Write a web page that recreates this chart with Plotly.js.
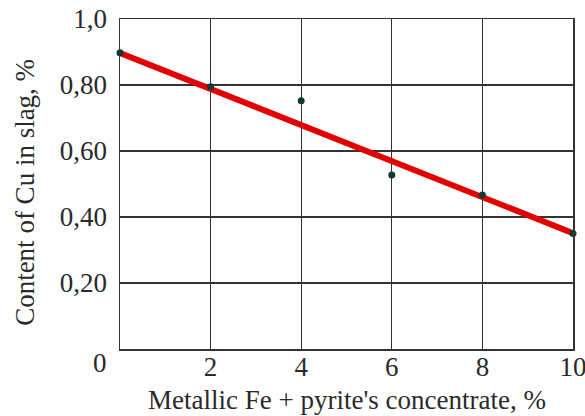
<!DOCTYPE html>
<html>
<head>
<meta charset="utf-8">
<script src="https://cdn.plot.ly/plotly-3.0.1.min.js"></script>
<style>html,body{margin:0;padding:0;background:#fff;}#chart{width:585px;height:416px;}</style>
</head>
<body>
<div id="chart"></div>
<script>
// Data
const xValues = [0, 2, 4, 6, 8, 10];
const cuContent = [0.898, 0.795, 0.752, 0.527, 0.467, 0.350];
const fitX = [0, 10];
const fitY = [0.897, 0.351];
const xTickVals = [2, 4, 6, 8, 10];
const xTickText = ["2", "4", "6", "8", "10"];
const yTickVals = [0.2, 0.4, 0.6, 0.8, 1.0];
const yTickText = ["0,20", "0,40", "0,60", "0,80", "1,0"];
const originLabel = "0";
const xTitle = "Metallic Fe + pyrite's concentrate, %";
const yTitle = "Content of Cu in slag, %";

const font = {family: "Liberation Serif, Times New Roman, serif", size: 27, color: "#2a2a2a"};
const titleFont = {family: "Liberation Serif, Times New Roman, serif", size: 27, color: "#2a2a2a"};

const traces = [
  {x: fitX, y: fitY, mode: "lines", line: {color: "#e30000", width: 6}, hoverinfo: "skip", cliponaxis: false},
  {x: xValues, y: cuContent, mode: "markers", marker: {color: "#0d3b36", size: 7}, cliponaxis: false}
];

const layout = {
  width: 585, height: 416,
  margin: {l: 120, r: 12, t: 19, b: 67},
  paper_bgcolor: "#fff", plot_bgcolor: "#fff",
  showlegend: false,
  font: font,
  xaxis: {
    range: [0, 10], tickvals: xTickVals, ticktext: xTickText,
    showgrid: true, gridcolor: "#333", gridwidth: 1.3,
    showline: true, linecolor: "#333", linewidth: 1.5, mirror: true,
    ticks: "", zeroline: false, tickfont: font, ticklabelstandoff: -7,
    ticklabeloverflow: "allow", automargin: false
  },
  yaxis: {
    range: [0, 1.0], tickvals: yTickVals, ticktext: yTickText,
    showgrid: true, gridcolor: "#333", gridwidth: 1.3,
    showline: true, linecolor: "#333", linewidth: 1.5, mirror: true,
    ticks: "", zeroline: false, tickfont: font, ticklabelstandoff: 6,
    automargin: false
  },
  annotations: [{
    text: originLabel, xref: "paper", yref: "paper", x: -0.045, y: 0,
    xanchor: "center", yanchor: "top", yshift: 3, showarrow: false, font: font
  }, {
    text: yTitle, xref: "paper", yref: "paper", x: -0.21, y: 0.5,
    xanchor: "center", yanchor: "middle", yshift: -8, textangle: -90,
    showarrow: false, font: titleFont
  }, {
    text: xTitle, xref: "paper", yref: "paper", x: 0.5, y: -0.203,
    xanchor: "center", yanchor: "bottom", borderpad: 0, showarrow: false, font: titleFont
  }]
};

Plotly.newPlot("chart", traces, layout, {displayModeBar: false, staticPlot: true});
</script>
</body>
</html>
